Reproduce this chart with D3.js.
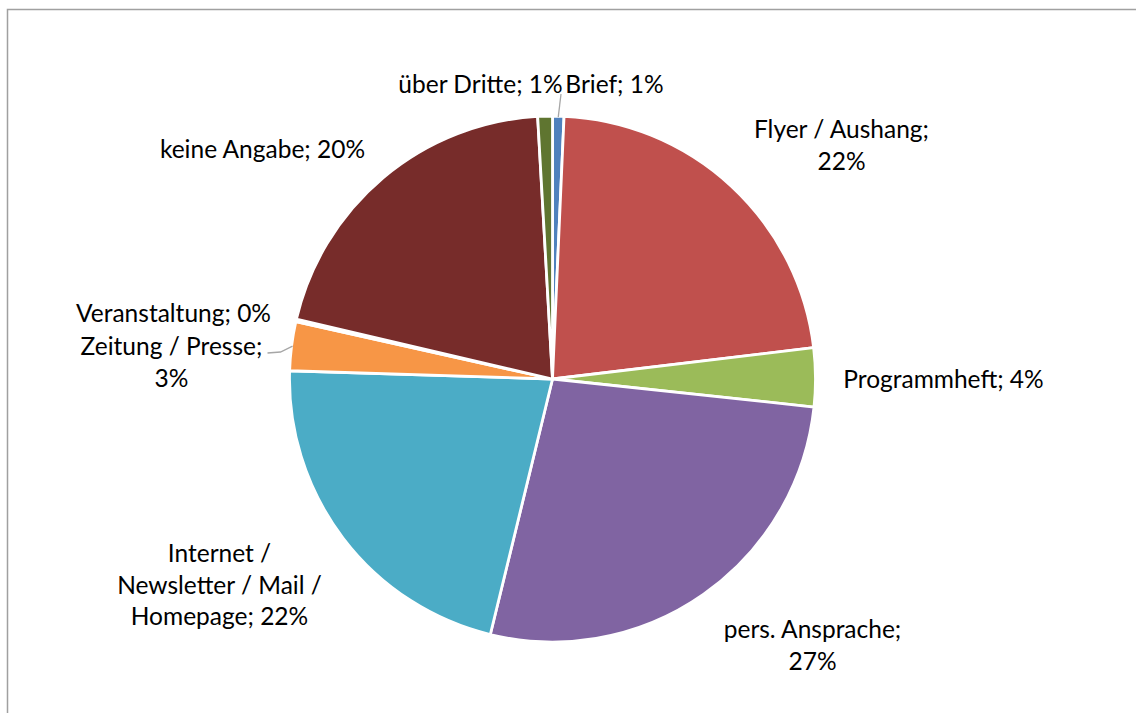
<!DOCTYPE html>
<html>
<head>
<meta charset="utf-8">
<script src="https://cdn.jsdelivr.net/npm/d3@7"></script>
<style>
  html, body { margin: 0; padding: 0; background: #fff; }
  svg { display: block; }
</style>
</head>
<body>
<svg id="chart" width="1136" height="713"></svg>
<script>
// ---- data ----
const categories = ["Brief", "Flyer / Aushang", "Programmheft", "pers. Ansprache",
  "Internet / Newsletter / Mail / Homepage", "Zeitung / Presse", "Veranstaltung",
  "keine Angabe", "über Dritte"];
const values = [0.7, 22.4, 3.6, 27.1, 21.7, 3.0, 0.15, 20.45, 0.9];
const percentLabels = ["1%", "22%", "4%", "27%", "22%", "3%", "0%", "20%", "1%"];
const colors = ["#4F81BD", "#C0504D", "#9BBB59", "#8064A2", "#4BACC6",
  "#F79646", "#2C4D75", "#772C2A", "#5F7530"];

// label layout: text lines, position relative to pie centre
const labelLines = [
  ["Brief; 1%"],
  ["Flyer / Aushang;", "22%"],
  ["Programmheft; 4%"],
  ["pers. Ansprache;", "27%"],
  ["Internet /", "Newsletter / Mail /", "Homepage; 22%"],
  ["Zeitung / Presse;", "3%"],
  ["Veranstaltung; 0%"],
  ["keine Angabe; 20%"],
  ["über Dritte; 1%"]
];
const labelOffsets = [ // [dx of text centre, dy of first baseline] from pie centre
  [62, -286], [289, -241], [391, 9], [260, 259], [-333, 183],
  [-381, -24], [-379, -57], [-290, -221], [-72, -286]
];

const svg = d3.select("#chart");
const cx = 552.5, cy = 379, R = 263;

// chart border
svg.append("rect").attr("x", 7.5).attr("y", 9.5).attr("width", 1300).attr("height", 900)
  .attr("fill", "none").attr("stroke", "#a0a0a0").attr("stroke-width", 1.5);

const pie = d3.pie().sort(null).value(d => d).startAngle(0).endAngle(2 * Math.PI);
const arcs = pie(values);
const arc = d3.arc().innerRadius(0).outerRadius(R);

const g = svg.append("g").attr("transform", `translate(${cx},${cy})`);
g.selectAll("path.slice").data(arcs).join("path")
  .attr("class", "slice")
  .attr("d", arc)
  .attr("fill", (d, i) => colors[i])
  .attr("stroke", "#fff")
  .attr("stroke-width", 2.8)
  .attr("stroke-linejoin", "round");

function edgePoint(d) {
  const a = (d.startAngle + d.endAngle) / 2;
  return [Math.sin(a) * (R - 1), -Math.cos(a) * (R - 1)];
}
// leader: Brief
{
  const p = edgePoint(arcs[0]);
  g.append("path").attr("d", d3.line()([[8.5, -285], p]))
    .attr("fill", "none").attr("stroke", "#a6a6a6").attr("stroke-width", 1.3);
}
// leader: Zeitung / Presse
{
  const p = edgePoint(arcs[5]);
  g.append("path").attr("d", d3.line()([[-285, -26], [-272, -27], p]))
    .attr("fill", "none").attr("stroke", "#a6a6a6").attr("stroke-width", 1.3);
}

// labels
const lineH = 31.5;
labelLines.forEach((lines, i) => {
  const t = g.append("text")
    .attr("x", labelOffsets[i][0])
    .attr("y", labelOffsets[i][1])
    .attr("text-anchor", "middle")
    .attr("font-family", "Lato, 'Open Sans', sans-serif")
    .attr("font-size", "24.5px")
    .attr("fill", "#000");
  lines.forEach((ln, j) => {
    t.append("tspan").attr("x", labelOffsets[i][0]).attr("dy", j === 0 ? 0 : lineH).text(ln);
  });
});
</script>
</body>
</html>
